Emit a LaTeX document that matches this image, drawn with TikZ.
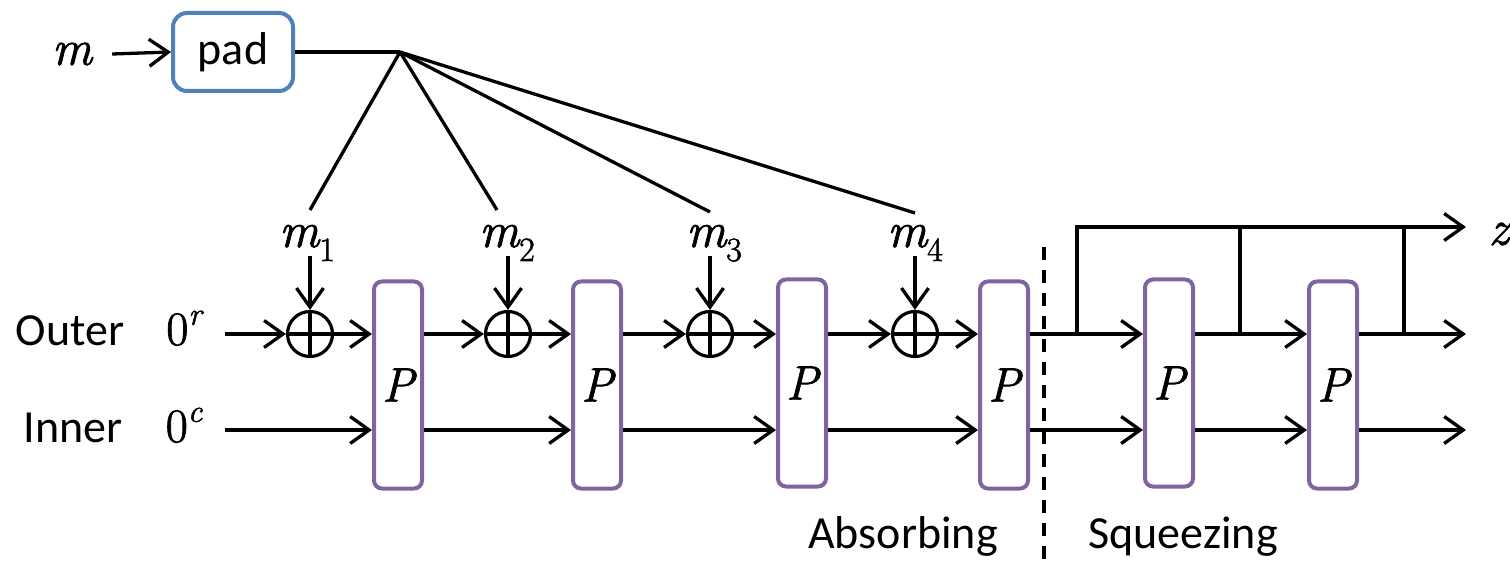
\documentclass[tikz,border=0pt]{standalone}
\usepackage{fontspec}
\newfontfamily\calfont{Carlito}
\newfontfamily\varfont{Latin Modern Roman}[FakeBold=1.6, ItalicFeatures={FakeBold=1.6}]
\usetikzlibrary{arrows.meta,calc}

\definecolor{permc}{HTML}{8064A2}
\definecolor{padc}{HTML}{4F81BD}

\newcommand\mvar[1]{{\varfont\itshape #1}}
\newcommand\msub[2]{\mvar{#1}\raisebox{-0.28em}{\fontsize{34}{34}\selectfont\varfont\upshape #2}}
\newcommand\zsup[1]{{\varfont\upshape 0}\raisebox{0.42em}{\fontsize{32}{32}\selectfont\varfont\itshape #1}}

\tikzset{
  wire/.style={line width=3.3pt, black},
  arr/.style={wire, -{Straight Barb[length=19pt,width=27pt,line width=3.3pt]}},
  lbl/.style={inner sep=0pt, font=\calfont\fontsize{46}{50}\selectfont},
  nlbl/.style={inner sep=0pt, font=\varfont\fontsize{48}{52}\selectfont},
  mlbl/.style={inner sep=0pt, font=\varfont\fontsize{50}{54}\selectfont},
  perm/.style={draw=permc, line width=4pt, rounded corners=8pt, fill=white,
    minimum width=48pt, minimum height=207pt, inner sep=0pt,
    font=\varfont\fontsize{48}{50}\selectfont},
  padbox/.style={draw=padc, line width=4pt, rounded corners=14pt, fill=white,
    minimum width=120pt, minimum height=78pt, inner sep=0pt,
    font=\calfont\fontsize{46}{50}\selectfont},
  xor/.style={circle, draw, line width=3.2pt, minimum size=45pt, inner sep=0pt,
    path picture={
      \draw[line width=3.2pt] (path picture bounding box.north) -- (path picture bounding box.south);
      \draw[line width=3.2pt] (path picture bounding box.west) -- (path picture bounding box.east);
    }},
}

\begin{document}
\begin{tikzpicture}[x=1pt,y=-1pt]
\useasboundingbox (0,0) rectangle (1510,569);

% padding stage
\node[mlbl] (m) at (72,54) {\mvar{m}};
\node[padbox] (pad) at (233,52) {pad};
\draw[arr] ([xshift=20pt]m.east) -- (pad.west);

% distribution of the padded blocks
\coordinate (fan) at (400,52);
\coordinate (e1) at (310,210);
\coordinate (e2) at (497,210);
\coordinate (e3) at (710,212);
\coordinate (e4) at (915,213);
\draw[wire] (pad.east) -- (fan);
\foreach \e in {e1,e2,e3,e4} \draw[wire] (fan) -- (\e);

% message block labels
\node[mlbl, anchor=base] (m1) at (307,247) {\msub{m}{1}};
\node[mlbl, anchor=base] (m2) at (507,247) {\msub{m}{2}};
\node[mlbl, anchor=base] (m3) at (714,247) {\msub{m}{3}};
\node[mlbl, anchor=base] (m4) at (915,247) {\msub{m}{4}};

% XOR gates
\node[xor] (x1) at (310,334) {};
\node[xor] (x2) at (508,334) {};
\node[xor] (x3) at (710,334) {};
\node[xor] (x4) at (915,334) {};
\foreach \i in {1,2,3,4}
  \draw[arr] ($(x\i.north)+(0,-54)$) -- (x\i.north);

% permutation boxes
\node[perm] (b1) at (398,385) {\mvar{P}};
\node[perm] (b2) at (597,385) {\mvar{P}};
\node[perm] (b3) at (802,383) {\mvar{P}};
\node[perm] (b4) at (1004,385) {\mvar{P}};
\node[perm] (b5) at (1169,383) {\mvar{P}};
\node[perm] (b6) at (1333,385) {\mvar{P}};

% row labels
\node[lbl, anchor=base] (outer) at (70,345) {Outer};
\node[lbl, anchor=base] (inner) at (73,442) {Inner};
\node[nlbl, anchor=base] (zr) at (184,345) {\zsup{r}};
\node[nlbl, anchor=base] (zc) at (184,442) {\zsup{c}};

\coordinate (orow) at (0,334);
\coordinate (irow) at (0,430);
\coordinate (o0) at (225,334);
\coordinate (i0) at (225,430);

% outer (rate) lane
\draw[arr] (o0) -- (x1.west);
\draw[arr] (x1.east) -- (orow -| b1.west);
\draw[arr] (orow -| b1.east) -- (x2.west);
\draw[arr] (x2.east) -- (orow -| b2.west);
\draw[arr] (orow -| b2.east) -- (x3.west);
\draw[arr] (x3.east) -- (orow -| b3.west);
\draw[arr] (orow -| b3.east) -- (x4.west);
\draw[arr] (x4.east) -- (orow -| b4.west);

% inner (capacity) lane
\draw[arr] (i0) -- (irow -| b1.west);
\draw[arr] (irow -| b1.east) -- (irow -| b2.west);
\draw[arr] (irow -| b2.east) -- (irow -| b3.west);
\draw[arr] (irow -| b3.east) -- (irow -| b4.west);
\draw[arr] (irow -| b4.east) -- (irow -| b5.west);
\draw[arr] (irow -| b5.east) -- (irow -| b6.west);
\coordinate (iend) at (1466,430);
\draw[arr] (irow -| b6.east) -- (iend);

% squeezing outputs
\coordinate (oend) at (1466,334);
\coordinate (zend) at (1466,227);
\coordinate (t1) at (1077,334);
\coordinate (t2) at (1240,334);
\coordinate (t3) at (1404,334);
\draw[arr] (orow -| b4.east) -- (orow -| b5.west);
\draw[arr] (orow -| b5.east) -- (orow -| b6.west);
\draw[arr] (orow -| b6.east) -- (oend);
\draw[arr] (t1) |- (zend);
\draw[wire] (t2) -- (t2 |- zend);
\draw[wire] (t3) -- (t3 |- zend);
\node[mlbl, anchor=east] (z) at (1509,234) {\mvar{z}};

% phase separator
\coordinate (d0) at (1044,247);
\coordinate (d1) at (1044,569);
\draw[wire, dash pattern=on 13pt off 10pt] (d0) -- (d1);
\node[lbl, anchor=base] (abs) at (903,548) {Absorbing};
\node[lbl, anchor=base] (sqz) at (1183,548) {Squeezing};
\end{tikzpicture}
\end{document}
